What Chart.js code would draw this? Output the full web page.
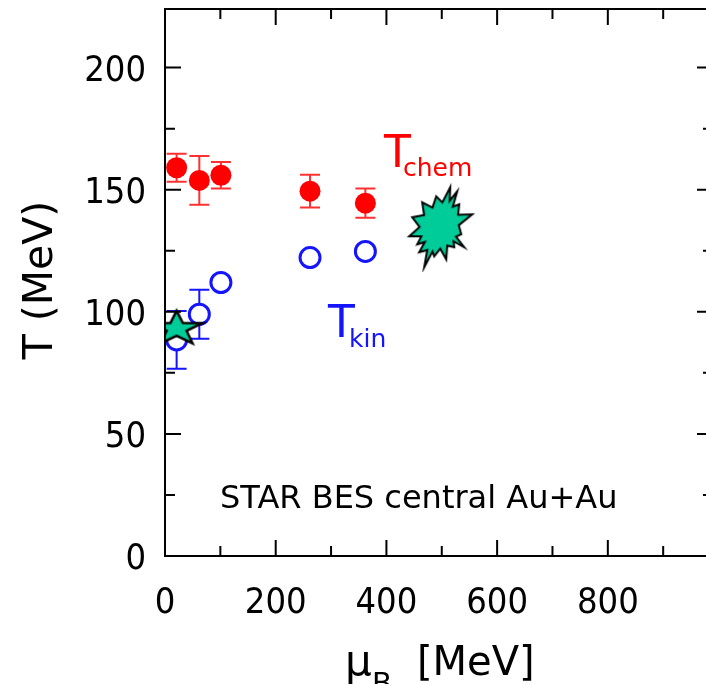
<!DOCTYPE html>
<html>
<head>
<meta charset="utf-8">
<script src="https://cdn.jsdelivr.net/npm/chart.js@4.4.1/dist/chart.umd.min.js"></script>
<style>
  html, body { margin: 0; padding: 0; background: #fff; overflow: hidden; }
  #wrap { width: 716px; height: 684px; }
  #chart { display: block; }
</style>
</head>
<body>
<div id="wrap"><canvas id="chart" width="716" height="684"></canvas></div>
<script>
// STAR BES central Au+Au freeze-out temperatures
const muB = [21, 62, 101, 262, 362];
const tChem = [159.0, 153.8, 155.9, 149.4, 144.5];
const tChemErr = [5.7, 10, 5.4, 6.7, 6];
const tKin = [88.5, 99, 112, 122.2, 124.7];
const tKinErr = [11.8, 10, 0, 0, 0];

// LHC point (star) and lattice-ish burst point
const starMu = [21];
const starT = [93.1];
const burstMu = [499];
const burstT = [134.6];

const xTicks = [0, 200, 400, 600, 800];
const yTicks = [0, 50, 100, 150, 200];

const green = "#00cc99";

function makeStar() {
    const c = document.createElement("canvas");
    c.width = 62; c.height = 46;
    const g = c.getContext("2d");
    const cx = 31, cy = 23, rx = 27, ry = 18, k = 0.39;
    g.beginPath();
    for (let i = 0; i < 10; i++) {
        const a = -Math.PI / 2 + i * Math.PI / 5;
        const f = i % 2 ? k : 1;
        g.lineTo(cx + Math.cos(a) * rx * f, cy + Math.sin(a) * ry * f);
    }
    g.closePath();
    g.fillStyle = green;
    g.fill();
    g.lineWidth = 2.5;
    g.strokeStyle = "#000";
    g.stroke();
    return c;
}

function makeBurst() {
    const tips = [[10, -40], [17, -36], [19, -23], [32, -13], [21, 7], [24, 20], [14, 20], [6, 32],
        [-6, 29], [-16, 40], [-21, 25], [-23, 17], [-31, 9], [-28, -10], [-18, -25], [-4, -31]];
    const c = document.createElement("canvas");
    c.width = 76; c.height = 90;
    const g = c.getContext("2d");
    const cx = 37, cy = 45;
    g.beginPath();
    tips.forEach((p, i) => {
        const q = tips[(i + 1) % tips.length];
        g.lineTo(cx + p[0], cy + p[1]);
        g.lineTo(cx + (p[0] + q[0]) * 0.35, cy + (p[1] + q[1]) * 0.35);
    });
    g.closePath();
    g.fillStyle = green;
    g.fill();
    g.lineWidth = 2;
    g.strokeStyle = "#000";
    g.lineJoin = "miter";
    g.stroke();
    return c;
}

const pts = (xs, ys) => xs.map((x, i) => ({ x: x, y: ys[i] }));

const tickFont = "36px 'DejaVu Sans Condensed', 'DejaVu Sans'";

const extras = {
    id: "extras",
    beforeDatasetsDraw(chart) {
        const { ctx, scales: { x, y } } = chart;
        ctx.save();
        ctx.lineWidth = 2;
        chart.data.datasets.forEach(ds => {
            if (!ds.errors) return;
            ctx.strokeStyle = ds.errColor;
            ds.data.forEach((p, i) => {
                const e = ds.errors[i];
                if (!e) return;
                const px = x.getPixelForValue(p.x);
                const y1 = y.getPixelForValue(p.y + e);
                const y2 = y.getPixelForValue(p.y - e);
                ctx.beginPath();
                ctx.moveTo(px, y1); ctx.lineTo(px, y2);
                ctx.moveTo(px - 10, y1); ctx.lineTo(px + 10, y1);
                ctx.moveTo(px - 10, y2); ctx.lineTo(px + 10, y2);
                ctx.stroke();
            });
        });
        ctx.restore();
    },
    afterDraw(chart) {
        const { ctx, chartArea: a, scales: { x, y } } = chart;
        ctx.save();
        ctx.strokeStyle = "#000";
        ctx.lineWidth = 2;
        ctx.strokeRect(a.left, a.top, a.right - a.left, a.bottom - a.top);
        ctx.beginPath();
        for (let v = 0; v <= x.max; v += 100) {
            const px = x.getPixelForValue(v);
            const len = v % 200 === 0 ? 16 : 10;
            ctx.moveTo(px, a.bottom); ctx.lineTo(px, a.bottom - len);
            ctx.moveTo(px, a.top); ctx.lineTo(px, a.top + len);
        }
        for (let v = 0; v <= y.max; v += 25) {
            const py = y.getPixelForValue(v);
            const len = v % 50 === 0 ? 16 : 10;
            ctx.moveTo(a.left, py); ctx.lineTo(a.left + len, py);
            ctx.moveTo(a.right, py); ctx.lineTo(a.right - len, py);
        }
        ctx.stroke();

        // tick labels
        ctx.fillStyle = "#000";
        ctx.font = tickFont;
        ctx.textBaseline = "alphabetic";
        ctx.textAlign = "center";
        xTicks.forEach(v => ctx.fillText(String(v), x.getPixelForValue(v), a.bottom + 57));
        ctx.textAlign = "right";
        yTicks.forEach(v => ctx.fillText(String(v), a.left - 19, y.getPixelForValue(v) + 13));

        ctx.textAlign = "left";
        // T_chem
        ctx.fillStyle = "#ff0000";
        ctx.font = "44px 'DejaVu Sans'";
        ctx.fillText("T", 384, 167);
        ctx.font = "25px 'DejaVu Sans'";
        ctx.fillText("chem", 403, 176);
        // T_kin
        ctx.fillStyle = "#1414ff";
        ctx.font = "44px 'DejaVu Sans'";
        ctx.fillText("T", 328, 337);
        ctx.font = "25px 'DejaVu Sans'";
        ctx.fillText("kin", 349, 347);
        // label
        ctx.fillStyle = "#000";
        ctx.font = "32px 'DejaVu Sans'";
        ctx.fillText("STAR BES central Au+Au", 220, 508);
        // x title
        ctx.font = "42px 'DejaVu Sans'";
        ctx.fillText("\u03bc", 345, 675);
        ctx.font = "29px 'DejaVu Sans'";
        ctx.fillText("B", 372, 693);
        ctx.font = "40px 'DejaVu Sans'";
        ctx.fillText("[MeV]", 417, 675);
        // y title
        ctx.translate(52, 280);
        ctx.rotate(-Math.PI / 2);
        ctx.textAlign = "center";
        ctx.font = "41px 'DejaVu Sans'";
        ctx.fillText("T (MeV)", 0, 0);
        ctx.restore();
    }
};

new Chart(document.getElementById("chart"), {
    type: "scatter",
    data: {
        datasets: [
            {
                data: pts(burstMu, burstT),
                pointStyle: makeBurst(),
                order: 0,
            },
            {
                data: pts(starMu, starT),
                pointStyle: makeStar(),
                order: 0,
            },
            {
                data: pts(muB, tKin),
                errors: tKinErr,
                errColor: "#1414ff",
                pointStyle: "circle",
                pointRadius: 10,
                borderWidth: 3,
                borderColor: "#1414ff",
                backgroundColor: "#ffffff",
                order: 1,
            },
            {
                data: pts(muB, tChem),
                errors: tChemErr,
                errColor: "#ff3030",
                pointStyle: "circle",
                pointRadius: 10.5,
                borderWidth: 0,
                backgroundColor: "#ff0000",
                order: 2,
            },
        ],
    },
    options: {
        responsive: false,
        animation: false,
        events: [],
        layout: { autoPadding: false, padding: { top: 9, right: 3, left: 0, bottom: 0 } },
        plugins: { legend: { display: false }, tooltip: { enabled: false } },
        scales: {
            x: {
                type: "linear",
                min: 0,
                max: 990,
                grid: { display: false },
                border: { display: false },
                ticks: { display: false },
                afterFit(s) { s.height = 128; },
            },
            y: {
                min: 0,
                max: 224,
                grid: { display: false },
                border: { display: false },
                ticks: { display: false },
                afterFit(s) { s.width = 165; },
            },
        },
    },
    plugins: [extras],
});
</script>
</body>
</html>
